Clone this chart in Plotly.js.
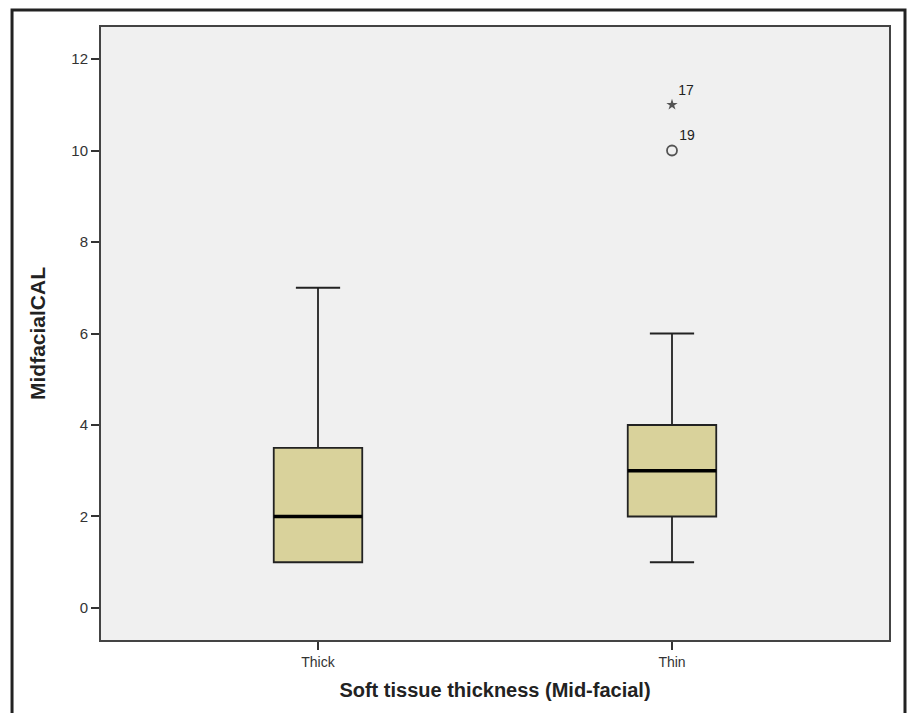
<!DOCTYPE html>
<html>
<head>
<meta charset="utf-8">
<script src="https://cdn.plot.ly/plotly-3.0.1.min.js"></script>
<style>html,body{margin:0;padding:0;background:#fff;}#chart{width:907px;height:713px;}</style>
</head>
<body>
<div id="chart"></div>
<script>
// Data
var categories = ['Thick', 'Thin'];
var q1Values = [1, 2];
var medianValues = [2, 3];
var q3Values = [3.5, 4];
var lowerWhisker = [1, 1];
var upperWhisker = [7, 6];
var outlierCategory = ['Thin', 'Thin'];
var outlierValues = [11, 10];
var outlierLabels = ['17', '19'];
var outlierSymbols = ['star', 'circle-open'];

var pos = categories.map(function (c, i) { return i; });
var boxWidth = 0.25;

var medX = [], medY = [];
medianValues.forEach(function (m, i) {
  medX.push(pos[i] - boxWidth / 2, pos[i] + boxWidth / 2, null);
  medY.push(m, m, null);
});

var fontFam = 'Liberation Sans, Arial, sans-serif';

var traces = [
  {
    type: 'box',
    x: pos,
    q1: q1Values,
    median: medianValues,
    q3: q3Values,
    lowerfence: lowerWhisker,
    upperfence: upperWhisker,
    width: boxWidth,
    whiskerwidth: 0.5,
    fillcolor: '#d9d29b',
    line: { color: '#222', width: 1.8 },
    boxpoints: false,
    hoverinfo: 'skip',
    showlegend: false
  },
  {
    type: 'scatter',
    mode: 'lines',
    x: medX,
    y: medY,
    line: { color: '#000', width: 3.5 },
    hoverinfo: 'skip',
    showlegend: false
  },
  {
    type: 'scatter',
    mode: 'markers+text',
    x: outlierCategory.map(function (c) { return categories.indexOf(c); }),
    y: outlierValues,
    text: outlierLabels,
    textposition: 'top right',
    textfont: { family: fontFam, size: 14, color: '#222' },
    marker: {
      symbol: outlierSymbols,
      size: [8.5, 10],
      color: '#111',
      line: { color: '#111', width: [0, 1.8] }
    },
    cliponaxis: false,
    hoverinfo: 'skip',
    showlegend: false
  }
];

var layout = {
  width: 907,
  height: 713,
  margin: { l: 101, r: 18, t: 27, b: 73, pad: 0 },
  paper_bgcolor: '#ffffff',
  plot_bgcolor: '#f0f0f0',
  font: { family: fontFam, color: '#333' },
  showlegend: false,
  xaxis: {
    range: [-0.613, 1.613],
    tickvals: pos,
    ticktext: categories,
    ticks: 'outside',
    ticklen: 8,
    tickwidth: 1.5,
    tickcolor: '#333',
    tickfont: { family: fontFam, size: 14, color: '#333' },
    showgrid: false,
    zeroline: false,
    showline: true,
    linecolor: '#444',
    linewidth: 2,
    mirror: true,
    automargin: false,
    title: {
      text: 'Soft tissue thickness (Mid-facial)',
      font: { family: fontFam, size: 20, color: '#222', weight: 'bold' },
      standoff: 14
    }
  },
  yaxis: {
    range: [-0.7, 12.7],
    tickvals: [0, 2, 4, 6, 8, 10, 12],
    ticks: 'outside',
    ticklen: 8,
    tickwidth: 2,
    tickcolor: '#333',
    tickfont: { family: fontFam, size: 15, color: '#333' },
    showgrid: false,
    zeroline: false,
    showline: true,
    linecolor: '#444',
    linewidth: 2,
    mirror: true,
    automargin: false,
    title: {
      text: 'MidfacialCAL',
      font: { family: fontFam, size: 21, color: '#222', weight: 'bold' },
      standoff: 20
    }
  },
  shapes: [
    {
      type: 'path',
      xref: 'paper',
      yref: 'paper',
      path: 'M -0.1129,-0.2 L -0.1129,1.0277 L 1.0203,1.0277 L 1.0203,-0.2',
      line: { color: '#222', width: 3 }
    }
  ]
};

Plotly.newPlot('chart', traces, layout, { displayModeBar: false, staticPlot: true });
</script>
</body>
</html>
